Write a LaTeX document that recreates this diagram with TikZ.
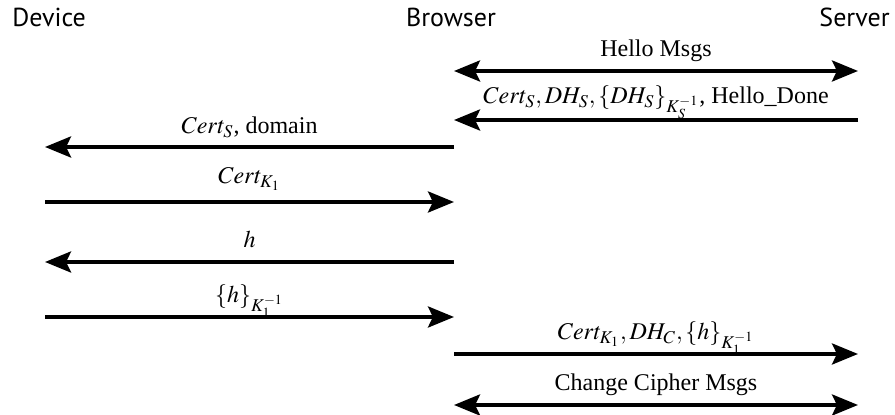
\documentclass[tikz,border=0pt]{standalone}
\usepackage{mathptmx}
\usepackage{fontspec}
\setmainfont{Liberation Serif}
\newfontfamily\headfont{PT Sans}
\usetikzlibrary{arrows.meta}

\begin{document}
\begin{tikzpicture} [x=0.5pt, y=-0.5pt, font=\fontsize{12}{14}\selectfont,
  msg/.style={line width=2pt, -{Stealth[length=13pt, width=10.5pt, inset=2.5pt]}},
  both/.style={line width=2pt, {Stealth[length=13pt, width=10.5pt, inset=2.5pt]}-{Stealth[length=13pt, width=10.5pt, inset=2.5pt]}},
  lbl/.style={midway, anchor=base, yshift=7pt, inner sep=0pt},
  head/.style={font=\headfont\fontsize{13}{15}\selectfont, inner sep=0pt}]
\useasboundingbox (0,0) rectangle (895,415);
\def\xd{45}
\def\xb{454}
\def\xs{858}
% parties
\node [head, anchor=base west] (device) at (12,27) {Device};
\node [head, anchor=base] (browser) at (451,27) {Browser};
\node [head, anchor=base east] (server) at (890,27) {Server};
% message end points
\coordinate (b1) at (\xb,71);  \coordinate (s1) at (\xs,71);
\coordinate (b2) at (\xb,120); \coordinate (s2) at (\xs,120);
\coordinate (d3) at (\xd,147); \coordinate (b3) at (\xb,147);
\coordinate (d4) at (\xd,202); \coordinate (b4) at (\xb,202);
\coordinate (d5) at (\xd,262); \coordinate (b5) at (\xb,262);
\coordinate (d6) at (\xd,317); \coordinate (b6) at (\xb,317);
\coordinate (b7) at (\xb,354); \coordinate (s7) at (\xs,354);
\coordinate (b8) at (\xb,405); \coordinate (s8) at (\xs,405);
% messages
\draw [both] (b1) -- node [lbl] (hello) {Hello Msgs} (s1);
\draw [msg] (s2) -- node [lbl, yshift=1pt] (certs) {$Cert_S, DH_S, \{DH_S\}_{K_S^{-1}}$, Hello\_Done} (b2);
\draw [msg] (b3) -- node [lbl, yshift=-0.5pt] (domain) {$Cert_S$, domain} (d3);
\draw [msg] (d4) -- node [lbl, yshift=2pt] (certk) {$Cert_{K_1}$} (b4);
\draw [msg] (b5) -- node [lbl] (hash) {$h$} (d5);
\draw [msg] (d6) -- node [lbl] (sig) {$\{h\}_{K_1^{-1}}$} (b6);
\draw [msg] (b7) -- node [lbl] (keyx) {$Cert_{K_1}, DH_C, \{h\}_{K_1^{-1}}$} (s7);
\draw [both] (b8) -- node [lbl] (cipher) {Change Cipher Msgs} (s8);
\end{tikzpicture}
\end{document}
